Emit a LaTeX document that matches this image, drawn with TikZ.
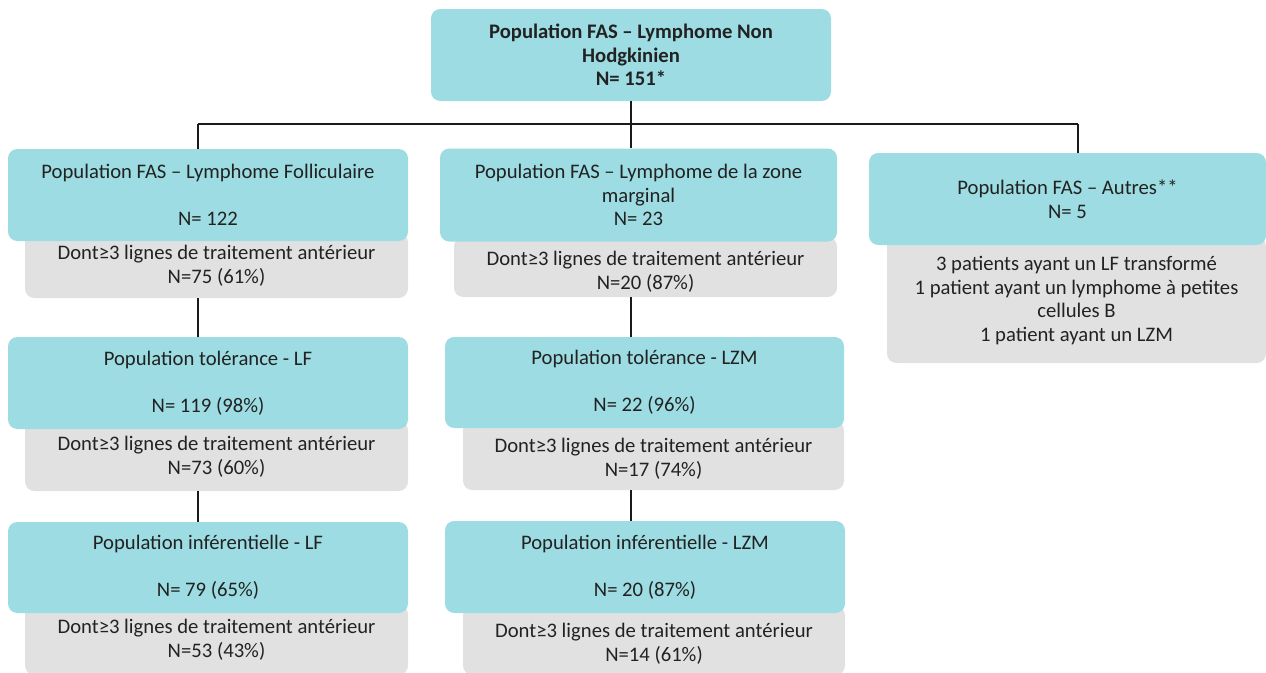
\documentclass[tikz,border=0pt]{standalone}
\usepackage{fontspec}
\setmainfont{Carlito}
\definecolor{tealbox}{HTML}{9CDCE2}
\definecolor{graybox}{HTML}{E1E1E1}
\definecolor{txt}{HTML}{222222}
\definecolor{conn}{HTML}{1A1A1A}
\begin{document}
\begin{tikzpicture}[x=0.75pt,y=-0.75pt,
  tealnode/.style={fill=tealbox, rounded corners=7pt, inner sep=0pt, draw=none,
     text=txt, align=center, font=\fontsize{15.5}{17.7}\selectfont},
  graynode/.style={fill=graybox, rounded corners=7pt, inner sep=0pt, draw=none},
  graytext/.style={text=txt, align=center, inner sep=0pt, font=\fontsize{15.5}{17.7}\selectfont},
  link/.style={draw=conn, line width=1.4pt}]
\useasboundingbox (0,0) rectangle (1266,672);

% gray boxes (behind)
\node[graynode, minimum width=383*0.75pt, minimum height=65*0.75pt] (gLF1) at (216.5,265.5) {};
\node[graynode, minimum width=383*0.75pt, minimum height=70*0.75pt] (gLF2) at (216.5,456) {};
\node[graynode, minimum width=383*0.75pt, minimum height=70*0.75pt] (gLF3) at (216.5,640) {};
\node[graynode, minimum width=383*0.75pt, minimum height=60*0.75pt] (gLZM1) at (645.5,267) {};
\node[graynode, minimum width=381*0.75pt, minimum height=69*0.75pt] (gLZM2) at (653.5,455.5) {};
\node[graynode, minimum width=382*0.75pt, minimum height=69*0.75pt] (gLZM3) at (654,640.5) {};
\node[graynode, minimum width=379*0.75pt, minimum height=126*0.75pt] (gAut) at (1076.5,300) {};

% teal boxes
\node[tealnode, minimum width=400*0.75pt, minimum height=92*0.75pt] (top) at (631,55)
  {\bfseries Population FAS – Lymphome Non\\\bfseries Hodgkinien\\\bfseries N= 151*};
\node[tealnode, minimum width=400*0.75pt, minimum height=92*0.75pt] (fasLF) at (208,195)
  {Population FAS – Lymphome Folliculaire\\\mbox{}\\N= 122};
\node[tealnode, minimum width=400*0.75pt, minimum height=92*0.75pt] (tolLF) at (208,383)
  {Population tolérance - LF\\\mbox{}\\N= 119 (98\%)};
\node[tealnode, minimum width=400*0.75pt, minimum height=91*0.75pt] (infLF) at (208,567.5)
  {Population inférentielle - LF\\\mbox{}\\N= 79 (65\%)};
\node[tealnode, minimum width=397*0.75pt, minimum height=93*0.75pt] (fasLZM) at (638.5,195)
  {Population FAS – Lymphome de la zone\\marginal\\N= 23};
\node[tealnode, minimum width=399*0.75pt, minimum height=91*0.75pt] (tolLZM) at (644.5,382.5)
  {Population tolérance - LZM\\\mbox{}\\N= 22 (96\%)};
\node[tealnode, minimum width=400*0.75pt, minimum height=92*0.75pt] (infLZM) at (645,567)
  {Population inférentielle - LZM\\\mbox{}\\N= 20 (87\%)};
\node[tealnode, minimum width=397*0.75pt, minimum height=92*0.75pt] (autres) at (1067.5,199)
  {Population FAS – Autres**\\N= 5};

% gray texts
\node[graytext] (tLF1) at (216.5,265.5) {Dont≥3 lignes de traitement antérieur\\N=75 (61\%)};
\node[graytext] (tLF2) at (216.5,456.5) {Dont≥3 lignes de traitement antérieur\\N=73 (60\%)};
\node[graytext] (tLF3) at (216.5,639.5) {Dont≥3 lignes de traitement antérieur\\N=53 (43\%)};
\node[graytext] (tLZM1) at (645.5,272) {Dont≥3 lignes de traitement antérieur\\N=20 (87\%)};
\node[graytext] (tLZM2) at (653.5,458.5) {Dont≥3 lignes de traitement antérieur\\N=17 (74\%)};
\node[graytext] (tLZM3) at (654,643.5) {Dont≥3 lignes de traitement antérieur\\N=14 (61\%)};
\node[graytext] (tAut) at (1076.5,300.5) {3 patients ayant un LF transformé\\1 patient ayant un lymphome à petites\\cellules B\\1 patient ayant un LZM};

% connectors
\coordinate (jL) at (198,124);
\coordinate (jM) at (631,124);
\coordinate (jR) at (1078,124);
\draw[link] (top.south) -- (top.south |- fasLZM.north);
\draw[link] (jL) -- (jR);
\draw[link] (jL) -- (jL |- fasLF.north);
\draw[link] (jR) -- (jR |- autres.north);
\draw[link] (gLF1.south -| jL) -- (tolLF.north -| jL);
\draw[link] (gLF2.south -| jL) -- (infLF.north -| jL);
\draw[link] (gLZM1.south -| jM) -- (tolLZM.north -| jM);
\draw[link] (gLZM2.south -| jM) -- (infLZM.north -| jM);
\end{tikzpicture}
\end{document}
